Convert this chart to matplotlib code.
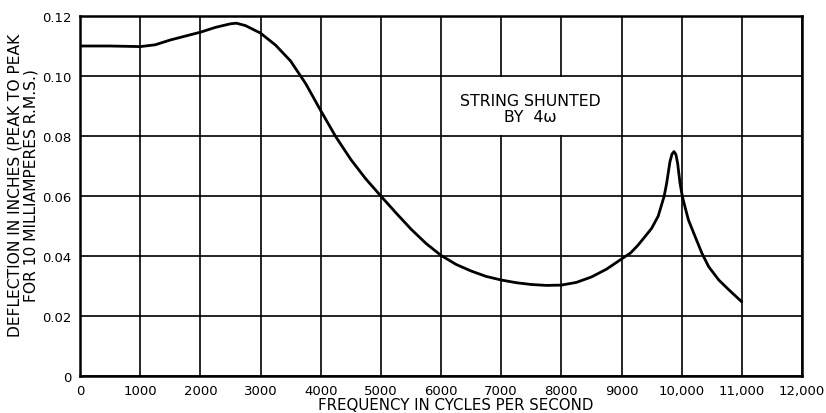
import matplotlib
matplotlib.use("Agg")
from matplotlib import pyplot as plt
from matplotlib.patches import Rectangle

# values
freq = [0, 500, 1000, 1250, 1500, 1750, 2000, 2250, 2500, 2600, 2750, 3000,
        3250, 3500, 3750, 4000, 4250, 4500, 4750, 5000, 5250, 5500, 5750,
        6000, 6250, 6500, 6750, 7000, 7250, 7500, 7750, 8000, 8250, 8500,
        8750, 9000, 9150, 9270, 9380, 9500, 9610, 9710, 9750, 9805, 9840, 9872,
        9905, 9933, 9973, 10012, 10060, 10113, 10225, 10337, 10450, 10617,
        10786, 11000]
deflection = [0.1100, 0.1100, 0.1098, 0.1104, 0.1120, 0.1133, 0.1146, 0.1162,
              0.1174, 0.1176, 0.1168, 0.1143, 0.1103, 0.1050, 0.0975, 0.0885,
              0.0798, 0.0722, 0.0657, 0.0600, 0.0544, 0.0490, 0.0442, 0.0402,
              0.0372, 0.0350, 0.0332, 0.0320, 0.0311, 0.0305, 0.0302, 0.0303,
              0.0312, 0.0330, 0.0356, 0.0390, 0.0410, 0.0435, 0.0462, 0.0492,
              0.0533, 0.0600, 0.0642, 0.0714, 0.0740, 0.0748, 0.0738, 0.0709,
              0.0642, 0.0598, 0.0560, 0.0520, 0.0464, 0.0409, 0.0364, 0.0320,
              0.0287, 0.0247]

x_ticks = [0, 1000, 2000, 3000, 4000, 5000, 6000, 7000, 8000, 9000, 10000, 11000, 12000]
x_tick_labels = ["0", "1000", "2000", "3000", "4000", "5000", "6000", "7000",
                 "8000", "9000", "10,000", "11,000", "12,000"]
y_ticks = [0, 0.02, 0.04, 0.06, 0.08, 0.10, 0.12]
y_tick_labels = ["0", "0.02", "0.04", "0.06", "0.08", "0.10", "0.12"]

note = "STRING SHUNTED\nBY  4\u03c9"

plt.rcParams["font.family"] = ["DejaVu Sans"]

fig = plt.figure(figsize=(8.26, 4.14), dpi=100)
ax = fig.add_axes([80 / 826, 1 - 377 / 414, 722 / 826, 360 / 414])

ax.plot(freq, deflection, color="black", lw=2.0, solid_capstyle="round", zorder=3)

ax.set_xlim(0, 12000)
ax.set_ylim(0, 0.12)
ax.set_xticks(x_ticks)
ax.set_xticklabels(x_tick_labels)
ax.set_yticks(y_ticks)
ax.set_yticklabels(y_tick_labels)
ax.tick_params(length=0, labelsize=9.5, pad=6)
ax.grid(True, color="black", lw=1.2)
for s in ax.spines.values():
    s.set_linewidth(1.8)

# blank cell behind the note (no vertical grid lines there)
ax.add_patch(Rectangle((6000 + 40, 0.0803), 3000 - 80, 0.0194,
                       facecolor="white", edgecolor="none", zorder=2))
ax.text(7490, 0.0891, note, ha="center", va="center",
        fontsize=11.3, linespacing=1.05, zorder=3)

ax.set_xlabel("FREQUENCY IN CYCLES PER SECOND", fontsize=10.8)
ax.xaxis.set_label_coords(0.52, -0.058)
ax.set_ylabel("DEFLECTION IN INCHES (PEAK TO PEAK\nFOR 10 MILLIAMPERES R.M.S.)",
              fontsize=11.2, linespacing=1.02)
ax.yaxis.set_label_coords(-0.058, 0.533)

fig.savefig("out.png", dpi=100)
